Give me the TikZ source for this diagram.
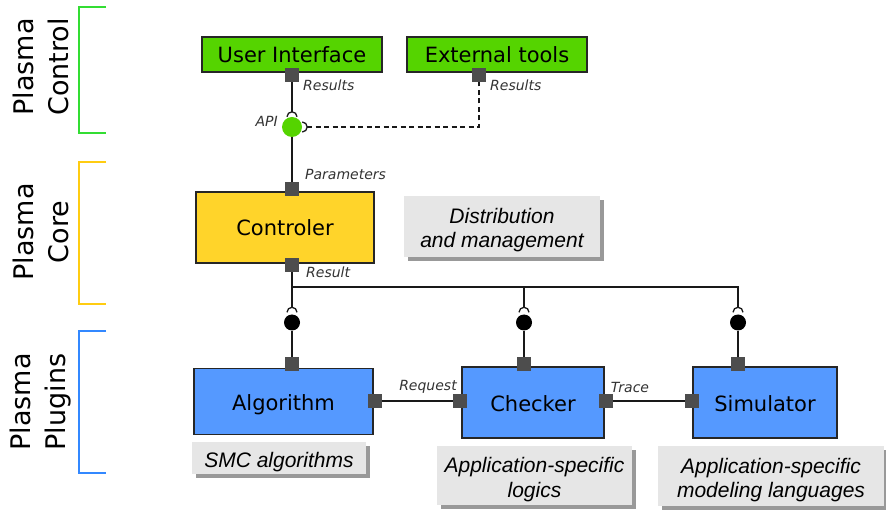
\documentclass[tikz,border=0pt]{standalone}
\usepackage{fontspec}
\setmainfont{DejaVu Sans}
\newfontfamily\notefont{Liberation Sans}
\usepackage{xcolor}
\usepackage{tikz}
\usetikzlibrary{positioning,shadows}

\definecolor{ctlgreen}{HTML}{55D400}
\definecolor{coreyellow}{HTML}{FFD42A}
\definecolor{plugblue}{HTML}{5599FF}
\definecolor{portgray}{HTML}{4D4D4D}
\definecolor{notegray}{HTML}{E6E6E6}
\definecolor{notedark}{HTML}{999999}
\definecolor{brgreen}{HTML}{33DD33}
\definecolor{bryellow}{HTML}{FFCC11}
\definecolor{brblue}{HTML}{3388FF}

\tikzset{
  comp/.style={draw=black!85, line width=1.3pt, inner sep=0pt,
    text height=17pt, text depth=0pt,
    font=\fontsize{21}{25}\selectfont},
  port/.style={fill=portgray, minimum size=13.5pt, inner sep=0pt},
  ball/.style={circle, inner sep=0pt, minimum size=#1},
  portlbl/.style={font=\fontsize{14}{16}\selectfont\itshape, text=black!80, inner sep=0pt},
  note/.style={fill=notegray, inner sep=0pt, align=center,
    font=\notefont\itshape\fontsize{21}{24.5}\selectfont,
    drop shadow={shadow xshift=4pt, shadow yshift=-4pt, fill=notedark, opacity=1}},
  note1/.style={note, text height=19pt, text depth=0pt},
  note2/.style={note, text height=43pt, text depth=0pt},
  layer/.style={rotate=90, align=center, font=\fontsize{27}{35}\selectfont},
  wire/.style={draw=black!90, line width=1.3pt},
}

\begin{document}
\begin{tikzpicture}[x=1pt,y=-1pt]
    \useasboundingbox (0,0) rectangle (886,510);

    % Layers
    \node[layer] (lctl) at (41,67) {Plasma\\Control};
    \node[layer] (lcore) at (41,232) {Plasma\\Core};
    \node[layer] (lplug) at (41,402) {Plasma\\Plugins};
    \draw[brgreen, line width=1.5pt] (106,7) -| (79,133) -- (106,133);
    \draw[bryellow, line width=1.5pt] (106,162) -| (79,304) -- (106,304);
    \draw[brblue, line width=1.5pt] (106,331) -| (79,473) -- (106,473);

    % Control
    \node[comp, fill=ctlgreen, minimum width=180pt, minimum height=35pt] (ui) at (292,54.5) {User Interface};
    \node[comp, fill=ctlgreen, minimum width=180pt, minimum height=35pt] (ext) at (497,54.5) {External tools};
    \node[port] (uiR) at (292,75) {};
    \node[port] (extR) at (479,75) {};
    \node[portlbl, anchor=west] (uiRl) at (303,85) {Results};
    \node[portlbl, anchor=west] (extRl) at (490,85) {Results};

    % API
    \node[ball=20pt, fill=ctlgreen] (api) at (292,127) {};
    \node[portlbl, anchor=east] (apil) at (278,121) {API};
    \coordinate (apiS) at ([yshift=5pt]api.north);
    \coordinate (apiE) at ([xshift=5pt]api.east);
    \draw[wire] ([xshift=5pt]api.north) arc[start angle=0, end angle=180, radius=5pt];
    \draw[wire] ([yshift=-5pt]api.east) arc[start angle=-90, end angle=90, radius=5pt];
    \draw[wire] (uiR) -- (apiS);
    \draw[wire, dash pattern=on 5pt off 3.5pt] (apiE) -| (extR);

    % Core
    \node[comp, fill=coreyellow, minimum width=178pt, minimum height=71pt] (ctl) at (285,227.5) {Controler};
    \node[port] (ctlT) at (292,189) {};
    \node[port] (ctlB) at (292,265) {};
    \node[portlbl, anchor=west] (ctlTl) at (305,174) {Parameters};
    \node[portlbl, anchor=west] (ctlBl) at (306,272) {Result};
    \draw[wire] (api) -- (ctlT);
    \node[note2, minimum width=196pt, minimum height=61pt] (ndist) at (502,226.5) {Distribution\\and management};

    % Plugins
    \node[comp, fill=plugblue, minimum width=179pt, minimum height=66pt] (alg) at (283.5,401.5) {Algorithm};
    \node[comp, fill=plugblue, minimum width=142pt, minimum height=71pt] (chk) at (533,402.5) {Checker};
    \node[comp, fill=plugblue, minimum width=144pt, minimum height=71pt] (sim) at (765,402.5) {Simulator};
    \node[port] (algT) at (292,364) {};
    \node[port] (algR) at (375,401) {};
    \node[port] (chkL) at (460,401) {};
    \node[port] (chkT) at (524,364) {};
    \node[port] (chkR) at (606,401) {};
    \node[port] (simL) at (692,401) {};
    \node[port] (simT) at (738,364) {};
    \node[portlbl] (reql) at (428,387) {Request};
    \node[portlbl] (trcl) at (630,387) {Trace};
    \draw[wire] (algR) -- (chkL);
    \draw[wire] (chkR) -- (simL);

    % Result bus
    \node[ball=16pt, fill=black] (ballA) at (292,322.5) {};
    \node[ball=16pt, fill=black] (ballC) at (524,322.5) {};
    \node[ball=16pt, fill=black] (ballS) at (738,322.5) {};
    \foreach \b in {ballA,ballC,ballS}
        \draw[wire] ([xshift=5pt,yshift=2pt]\b.north) arc[start angle=0, end angle=180, radius=5pt];
    \coordinate (sA) at ([yshift=7pt]ballA.north);
    \coordinate (sC) at ([yshift=7pt]ballC.north);
    \coordinate (sS) at ([yshift=7pt]ballS.north);
    \coordinate (bus) at (0,287);
    \draw[wire] (ctlB) -- (sA);
    \draw[wire] (ctlB |- bus) -| (sS);
    \draw[wire] (sC |- bus) -- (sC);
    \draw[wire] (ballA) -- (algT);
    \draw[wire] (ballC) -- (chkT);
    \draw[wire] (ballS) -- (simT);

    % Notes
    \node[note1, minimum width=174pt, minimum height=32pt] (nsmc) at (279,458) {SMC algorithms};
    \node[note2, minimum width=195pt, minimum height=59pt] (nlog) at (534.5,475.5) {Application-specific\\logics};
    \node[note2, minimum width=226pt, minimum height=60pt] (nmod) at (771,476) {Application-specific\\modeling languages};
\end{tikzpicture}
\end{document}
